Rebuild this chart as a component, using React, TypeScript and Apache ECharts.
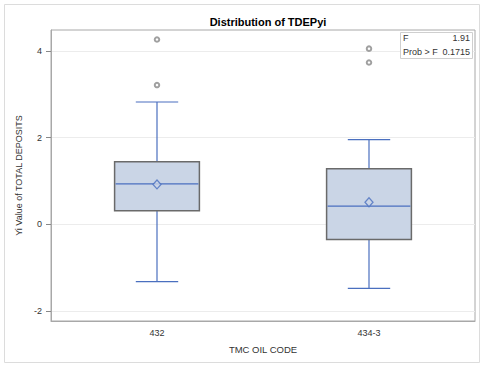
import React, { useEffect, useRef } from "react";
import * as echarts from "echarts";

const categories = ["432", "434-3"];
const whiskerLow = [-1.32, -1.48];
const q1 = [0.31, -0.35];
const median = [0.93, 0.42];
const q3 = [1.44, 1.28];
const whiskerHigh = [2.82, 1.95];
const means = [0.92, 0.51];
const outlierCats = ["432", "432", "434-3", "434-3"];
const outlierVals = [4.26, 3.21, 4.05, 3.73];
const yTicks = [-2, 0, 2, 4];
const yMin = -2.23;
const yMax = 4.48;
const fValue = "1.91";
const pValue = "0.1715";

const FONT = "'Liberation Sans', Arial, sans-serif";
const BLUE = "#4a6fbf";
const FILL = "#cad5e6";
const BOXEDGE = "#6a6a6a";

export default function App() {
  const ref = useRef<HTMLDivElement>(null);
  useEffect(() => {
    if (!ref.current) return;
    const chart = echarts.init(ref.current, null, { renderer: "svg" });
    const boxData = categories.map((c, i) => [i, whiskerLow[i], q1[i], median[i], q3[i], whiskerHigh[i]]);
    chart.setOption({
      animation: false,
      backgroundColor: "#fff",
      title: {
        text: "Distribution of TDEPyi",
        left: 263,
        textAlign: "center",
        top: 11,
        textStyle: { fontFamily: FONT, fontSize: 11, fontWeight: "bold", color: "#000" },
      },
      grid: {
        left: 51,
        right: 7,
        top: 30,
        bottom: 44,
        show: true,
        borderColor: "#a8a8a8",
        borderWidth: 1,
      },
      xAxis: {
        type: "category",
        data: categories,
        boundaryGap: true,
        name: "TMC OIL CODE",
        nameLocation: "middle",
        nameGap: 23,
        nameTextStyle: { fontFamily: FONT, fontSize: 9.5, color: "#333" },
        axisLine: { onZero: false, lineStyle: { color: "#a8a8a8" } },
        axisTick: { alignWithLabel: true, length: 4, lineStyle: { color: "#888" } },
        axisLabel: { fontFamily: FONT, fontSize: 9, color: "#333", margin: 7 },
        splitLine: { show: false },
      },
      yAxis: {
        type: "value",
        min: yMin,
        max: yMax,
        splitNumber: 3,
        name: "Yi Value of TOTAL DEPOSITS",
        nameLocation: "middle",
        nameGap: 21,
        nameTextStyle: { fontFamily: FONT, fontSize: 9, color: "#333" },
        axisLine: { show: true, onZero: false, lineStyle: { color: "#a8a8a8" } },
        axisTick: { show: true, length: 5, customValues: yTicks, lineStyle: { color: "#888" } },
        axisLabel: { fontFamily: FONT, fontSize: 9, color: "#333", margin: 9, customValues: yTicks },
        splitLine: { show: true, lineStyle: { color: "#ececec", width: 1 } },
      },
      series: [
        {
          type: "custom",
          data: boxData,
          encode: { x: 0, y: [1, 2, 3, 4, 5] },
          z: 2,
          renderItem: (params: any, api: any) => {
            const xi = api.value(0);
            const band = api.size([1, 0])[0];
            const cx = api.coord([xi, 0])[0];
            const yLo = api.coord([xi, api.value(1)])[1];
            const yQ1 = api.coord([xi, api.value(2)])[1];
            const yMed = api.coord([xi, api.value(3)])[1];
            const yQ3 = api.coord([xi, api.value(4)])[1];
            const yHi = api.coord([xi, api.value(5)])[1];
            const bw = band * 0.4;
            const cw = band * 0.2;
            const ls = { stroke: BLUE, lineWidth: 1.2 };
            return {
              type: "group",
              children: [
                { type: "line", shape: { x1: cx, y1: yHi, x2: cx, y2: yQ3 }, style: ls },
                { type: "line", shape: { x1: cx, y1: yQ1, x2: cx, y2: yLo }, style: ls },
                { type: "line", shape: { x1: cx - cw / 2, y1: yHi, x2: cx + cw / 2, y2: yHi }, style: ls },
                { type: "line", shape: { x1: cx - cw / 2, y1: yLo, x2: cx + cw / 2, y2: yLo }, style: ls },
                {
                  type: "rect",
                  shape: { x: cx - bw / 2, y: yQ3, width: bw, height: yQ1 - yQ3 },
                  style: { fill: FILL, stroke: BOXEDGE, lineWidth: 1.5 },
                },
                { type: "line", shape: { x1: cx - bw / 2 + 1, y1: yMed, x2: cx + bw / 2 - 1, y2: yMed }, style: ls },
              ],
            };
          },
        },
        {
          type: "scatter",
          data: categories.map((c, i) => [c, means[i]]),
          symbol: "diamond",
          symbolSize: [8, 9],
          z: 5,
          itemStyle: { color: FILL, borderColor: BLUE, borderWidth: 1.3 },
        },
        {
          type: "scatter",
          data: outlierCats.map((c, i) => [c, outlierVals[i]]),
          symbol: "emptyCircle",
          symbolSize: 4.5,
          z: 5,
          itemStyle: { color: "#888", borderWidth: 0.9 },
        },
      ],
      graphic: [
        {
          type: "rect",
          shape: { x: 4.5, y: 4.5, width: 475, height: 358 },
          style: { fill: "none", stroke: "#dcdcdc", lineWidth: 1 },
          z: -1,
        },
        {
          type: "rect",
          shape: { x: 400.5, y: 32.5, width: 72, height: 26 },
          style: { fill: "#fff", stroke: "#cfcfcf", lineWidth: 1 },
          z: 10,
        },
        {
          type: "text",
          x: 403,
          y: 38,
          style: { text: "F", fontFamily: FONT, fontSize: 9, fill: "#333", verticalAlign: "middle", align: "left" },
          z: 11,
        },
        {
          type: "text",
          x: 470,
          y: 38,
          style: { text: fValue, fontFamily: FONT, fontSize: 9, fill: "#333", verticalAlign: "middle", align: "right" },
          z: 11,
        },
        {
          type: "text",
          x: 403,
          y: 51.5,
          style: { text: "Prob > F", fontFamily: FONT, fontSize: 9, fill: "#333", verticalAlign: "middle", align: "left" },
          z: 11,
        },
        {
          type: "text",
          x: 470,
          y: 51.5,
          style: { text: pValue, fontFamily: FONT, fontSize: 9, fill: "#333", verticalAlign: "middle", align: "right" },
          z: 11,
        },
      ],
    });
    return () => chart.dispose();
  }, []);
  return <div ref={ref} style={{ width: 482, height: 365, position: "fixed", left: 0, top: 0 }} />;
}
